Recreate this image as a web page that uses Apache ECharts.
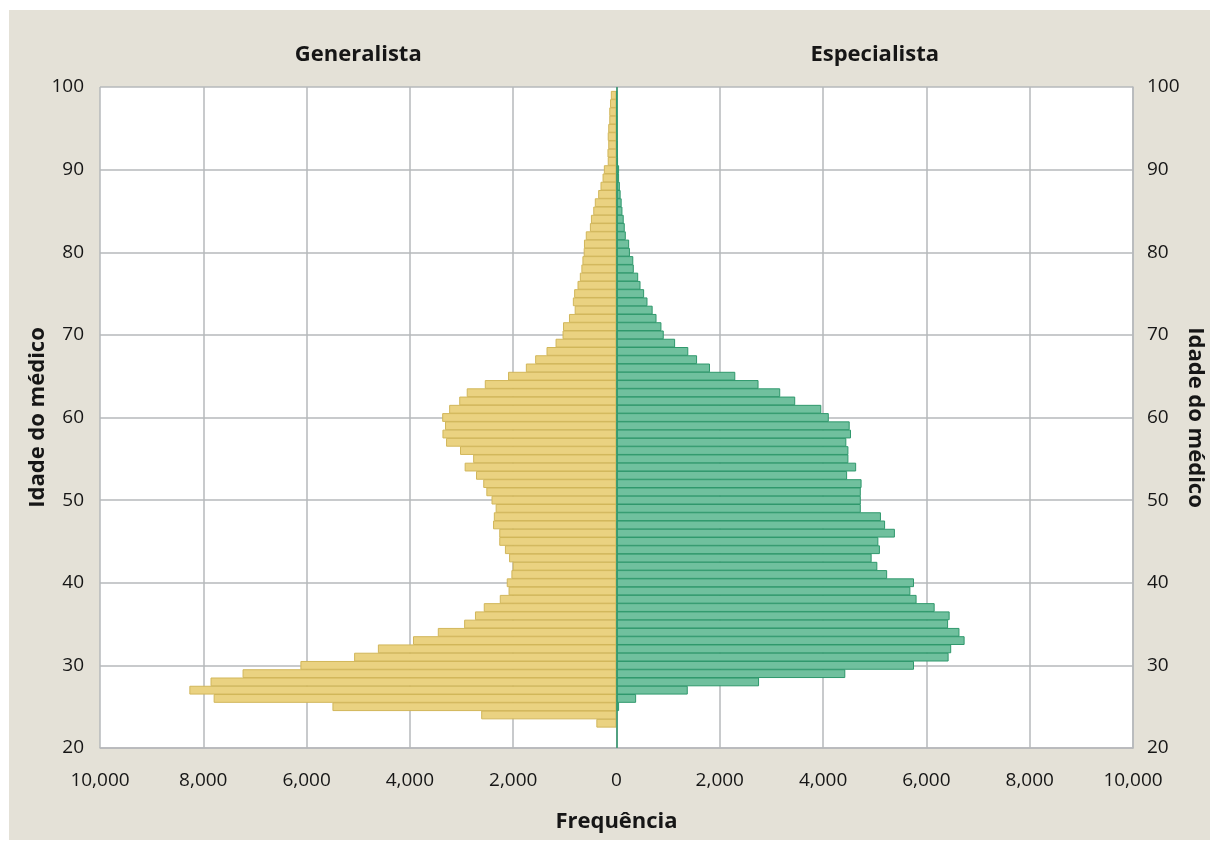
<!DOCTYPE html>
<html>
<head>
<meta charset="utf-8">
<script src="https://cdn.jsdelivr.net/npm/echarts@6/dist/echarts.min.js"></script>
<style>
html,body{margin:0;padding:0;background:#ffffff;}
#chart{width:1210px;height:851px;}
</style>
</head>
<body>
<div id="chart"></div>
<script>
// Ages 20..100 (one bar per age)
const ages = [];
for (let a = 20; a <= 100; a++) ages.push(String(a));

// Generalista frequency by age 20..100
const generalista = [
  0, 0, 0, 390, 2620, 5500, 7800, 8270, 7860, 7240,      // 20-29
  6120, 5080, 4620, 3940, 3460, 2950, 2740, 2570, 2260, 2090, // 30-39
  2125, 2035, 2010, 2080, 2160, 2270, 2270, 2390, 2375, 2340, // 40-49
  2420, 2520, 2580, 2720, 2940, 2775, 3030, 3300, 3370, 3320, // 50-59
  3375, 3240, 3045, 2900, 2550, 2100, 1755, 1575, 1355, 1180, // 60-69
  1045, 1035, 920, 810, 845, 820, 755, 710, 680, 660,         // 70-79
  635, 630, 595, 515, 495, 450, 420, 355, 310, 270,           // 80-89
  245, 170, 175, 160, 170, 160, 140, 140, 125, 110,           // 90-99
  0                                                           // 100
];

// Especialista frequency by age 20..100
const especialista = [
  0, 0, 0, 0, 0, 50, 380, 1380, 2760, 4430,                  // 20-29
  5760, 6430, 6480, 6740, 6640, 6420, 6450, 6160, 5810, 5690, // 30-39
  5760, 5240, 5050, 4940, 5100, 5070, 5390, 5200, 5120, 4730, // 40-49
  4730, 4730, 4745, 4465, 4640, 4490, 4490, 4450, 4540, 4515, // 50-59
  4110, 3965, 3460, 3170, 2750, 2300, 1810, 1560, 1390, 1135, // 60-69
  915, 870, 775, 700, 600, 535, 465, 420, 335, 325,           // 70-79
  260, 245, 180, 160, 140, 115, 100, 80, 65, 50,              // 80-89
  50, 30, 25, 20, 15, 10, 10, 5, 5, 5,                        // 90-99
  0                                                           // 100
];

const xTicks = [-10000, 10000, 2000]; // min, max, interval
const titles = ['Generalista', 'Especialista'];
const yName = 'Idade do médico';
const xName = 'Frequência';

const FONT = '"Open Sans", "Noto Sans", sans-serif';
const TXT = '#161616';
const GRIDC = '#b6b8bb';

const chart = echarts.init(document.getElementById('chart'), null, {renderer: 'canvas'});

const every10 = (idx, val) => Number(val) % 10 === 0;
const noZero = v => (v === 0 ? '-' : v);

const gridLeft = 100, gridRight = 77, gridTop = 87, gridBottom = 103;
const plotW = 1210 - gridLeft - gridRight;

const nameStyle = {fontFamily: FONT, fontWeight: 'bold', fontSize: 22, color: TXT};
const tickStyle = {fontFamily: FONT, fontSize: 19, fontWeight: 500, color: TXT};

chart.setOption({
  backgroundColor: '#ffffff',
  animation: false,
  graphic: [
    {type: 'rect', z: -10, shape: {x: 9, y: 10, width: 1201, height: 830}, style: {fill: '#e4e1d7'}},
    {type: 'text', x: gridLeft + plotW / 4, y: 55, style: {text: titles[0], font: 'bold 22px ' + FONT, fill: TXT, textAlign: 'center', textVerticalAlign: 'middle'}},
    {type: 'text', x: gridLeft + plotW * 3 / 4, y: 55, style: {text: titles[1], font: 'bold 22px ' + FONT, fill: TXT, textAlign: 'center', textVerticalAlign: 'middle'}}
  ],
  grid: {
    left: gridLeft, right: gridRight, top: gridTop, bottom: gridBottom,
    show: true, backgroundColor: '#ffffff', borderWidth: 0,
    containLabel: false, outerBoundsMode: 'none'
  },
  xAxis: {
    type: 'value',
    min: xTicks[0], max: xTicks[1], interval: xTicks[2],
    name: xName, nameLocation: 'middle', nameGap: 63, nameMoveOverlap: false,
    nameTextStyle: nameStyle,
    axisLine: {show: true, lineStyle: {color: GRIDC, width: 1.5}},
    axisTick: {show: false},
    axisLabel: Object.assign({margin: 23, formatter: v => Math.abs(v).toLocaleString('en-US')}, tickStyle),
    splitLine: {show: true, lineStyle: {color: GRIDC, width: 1.5}}
  },
  yAxis: [
    {
      type: 'category', data: ages, boundaryGap: false, position: 'left',
      name: yName, nameLocation: 'middle', nameRotate: 90, nameGap: 51, nameMoveOverlap: false,
      nameTextStyle: nameStyle,
      axisLine: {show: true, lineStyle: {color: GRIDC, width: 1.5}},
      axisTick: {show: false},
      axisLabel: Object.assign({interval: every10, margin: 16}, tickStyle),
      splitLine: {show: true, interval: every10, lineStyle: {color: GRIDC, width: 1.5}}
    },
    {
      type: 'category', data: ages, boundaryGap: false, position: 'right',
      name: yName, nameLocation: 'middle', nameRotate: -90, nameGap: 51, nameMoveOverlap: false,
      nameTextStyle: nameStyle,
      axisLine: {show: true, lineStyle: {color: GRIDC, width: 1.5}},
      axisTick: {show: false},
      axisLabel: Object.assign({interval: every10, margin: 14}, tickStyle),
      splitLine: {show: false}
    }
  ],
  series: [
    {
      name: titles[0], type: 'bar', yAxisIndex: 0,
      data: generalista.map(v => noZero(-v === 0 ? 0 : -v)),
      barGap: '-100%', barWidth: 8.8,
      itemStyle: {color: '#eAd281', borderColor: '#d1b65a', borderWidth: 1},
      silent: true
    },
    {
      name: titles[1], type: 'bar', yAxisIndex: 0,
      data: especialista.map(noZero),
      barGap: '-100%', barWidth: 8.8,
      itemStyle: {color: '#70c09e', borderColor: '#2f986c', borderWidth: 1},
      silent: true,
      markLine: {
        silent: true, symbol: 'none', label: {show: false},
        lineStyle: {color: '#2f986c', width: 1.5, type: 'solid'},
        data: [[{xAxis: 0, yAxis: ages[0]}, {xAxis: 0, yAxis: ages[ages.length - 1]}]]
      }
    }
  ]
});
</script>
</body>
</html>
